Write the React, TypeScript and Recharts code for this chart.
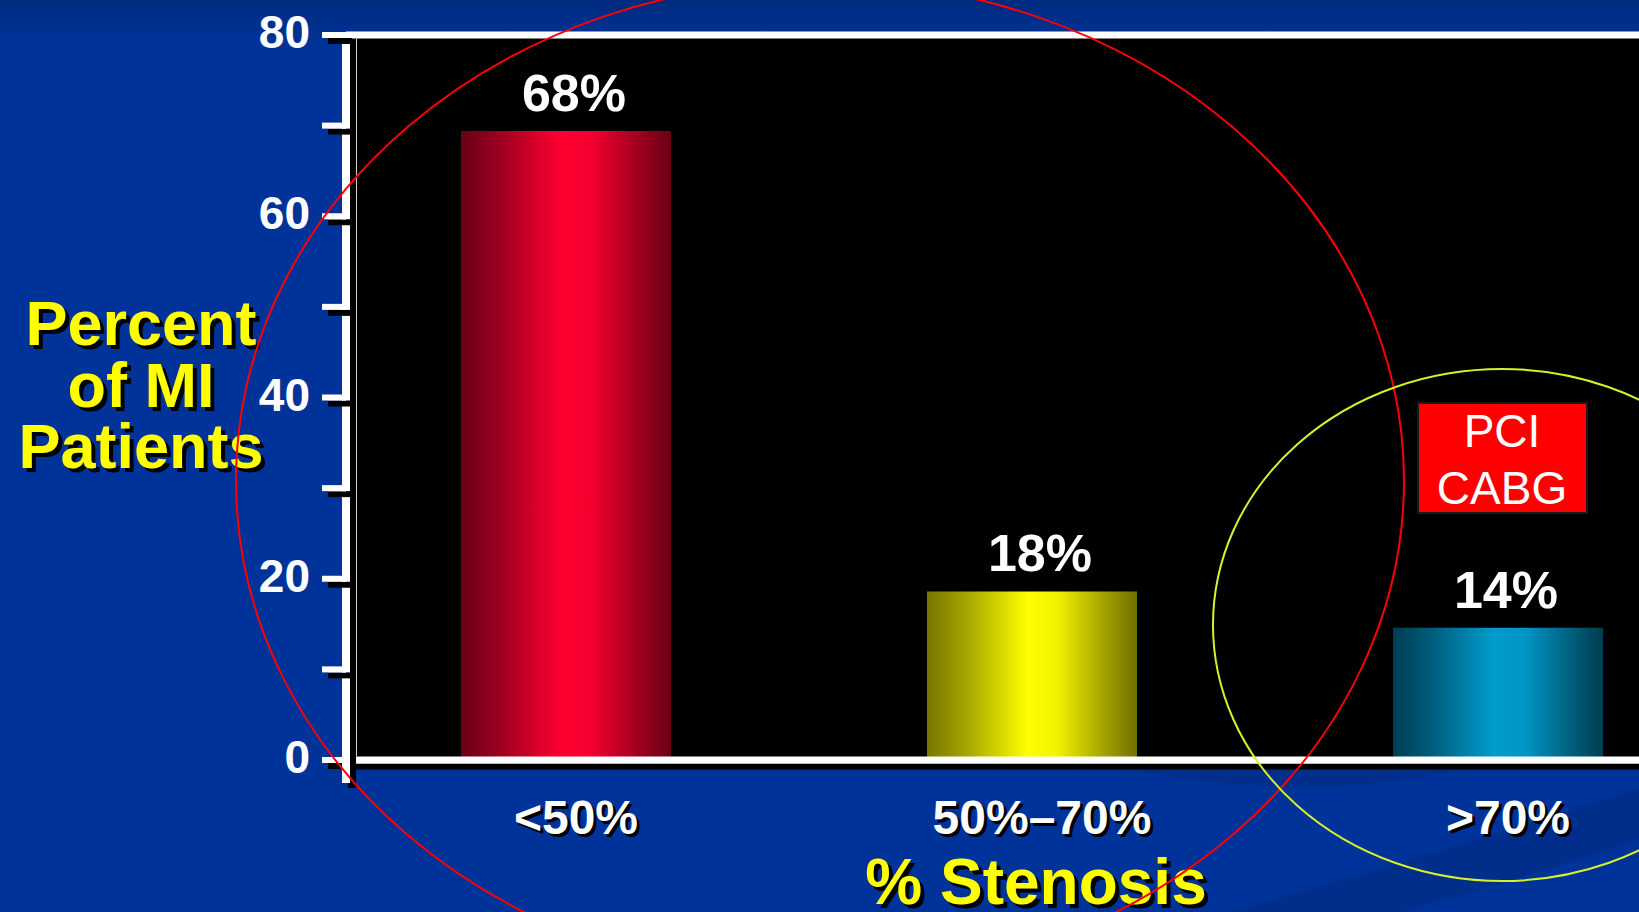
import React from 'react';
import { BarChart, Bar, XAxis, YAxis, CartesianGrid, ReferenceLine, Cell, LabelList } from 'recharts';

const categories = ['<50%', '50%–70%', '>70%'];
const percentOfMI = [69.4, 18.6, 14.6];
const barLabels = ['68%', '18%', '14%'];
const yTicks = [0, 10, 20, 30, 40, 50, 60, 70, 80];
const yTitleLines = ['Percent', 'of MI', 'Patients'];
const xTitle = '% Stenosis';
const boxLines = ['PCI', 'CABG'];

const gradients = [
  { id: 'gRed', stops: [['0%', '#6a0014'], ['18%', '#9c0020'], ['48%', '#ff0030'], ['62%', '#f4002e'], ['86%', '#9a001f'], ['100%', '#6a0014']] },
  { id: 'gYellow', stops: [['0%', '#777700'], ['20%', '#a8a800'], ['48%', '#ffff00'], ['62%', '#f2f200'], ['85%', '#a0a000'], ['100%', '#707000']] },
  { id: 'gBlue', stops: [['0%', '#003c52'], ['20%', '#00607f'], ['48%', '#009ccc'], ['63%', '#0095c4'], ['85%', '#005f7c'], ['100%', '#003c50']] },
];

const data = categories.map((c, i) => ({ category: c, value: percentOfMI[i], label: barLabels[i] }));

const font = "'Liberation Sans', Arial, sans-serif";

const ShadowText = ({ x, y, children, fill, size, weight = 700, anchor = 'middle', off = 4 }: any) => (
  <g>
    <text x={x + off} y={y + off} fill="#000" fontSize={size} fontWeight={weight} fontFamily={font} textAnchor={anchor}>{children}</text>
    <text x={x} y={y} fill={fill} fontSize={size} fontWeight={weight} fontFamily={font} textAnchor={anchor}>{children}</text>
  </g>
);

const XTick = (props: any) => {
  const { x, y, payload } = props;
  return <ShadowText x={x + 10} y={y + 34} fill="#fff" size={48} off={3}>{payload.value}</ShadowText>;
};

const YTick = (props: any) => {
  const { x, y, payload } = props;
  if (payload.value % 20 !== 0) return <g />;
  return (
    <text x={x} y={y + 13} fill="#fff" fontSize={46} fontWeight={700} fontFamily={font} textAnchor="end">
      {payload.value}
    </text>
  );
};

const YTitle = (props: any) => {
  const vb = props.viewBox || { x: 0, y: 35 };
  return (
    <g>
      {yTitleLines.map((t, i) => (
        <ShadowText key={t} x={141} y={vb.y + 310 + i * 61.5} fill="#ffff00" size={63}>{t}</ShadowText>
      ))}
    </g>
  );
};

const XTitle = (props: any) => {
  const vb = props.viewBox || { x: 346, y: 760, width: 1374 };
  return <ShadowText x={1036} y={vb.y + 144} fill="#ffff00" size={64}>{xTitle}</ShadowText>;
};

const BarLabel = (props: any) => {
  const { x, y, width, value } = props;
  return (
    <text x={x + width / 2 + 8} y={y - 20} fill="#fff" fontSize={52} fontWeight={700} fontFamily={font} textAnchor="middle">
      {value}
    </text>
  );
};

const App: React.FC = () => {
  return (
    <div style={{ position: 'absolute', left: 0, top: 0, width: 1639, height: 912, overflow: 'hidden', background: 'linear-gradient(#002a7e 0px, #003399 45px, #003399 100%)' }}>
      <style>{`
        .recharts-cartesian-axis-line, .recharts-cartesian-axis-tick-line { filter: url(#axisShadow); }
      `}</style>
      {/* background swooshes */}
      <svg width={1639} height={912} style={{ position: 'absolute', left: 0, top: 0 }}>
        <path d="M 1120 768 Q 1300 805 1470 768 Z" fill="#002e8a" />
        <path d="M 1230 912 Q 1450 850 1639 788 L 1639 840 Q 1500 885 1400 912 Z" fill="#002e8a" />
      </svg>
      <div style={{ position: 'absolute', left: 0, top: 0 }}>
        <BarChart width={1731} height={912} data={data} margin={{ top: 35, right: 0, bottom: 0, left: 0 }} barSize={210}>
          <defs>
            {gradients.map((g) => (
              <linearGradient key={g.id} id={g.id} x1="0" y1="0" x2="1" y2="0">
                {g.stops.map(([o, c]) => (
                  <stop key={o} offset={o} stopColor={c} />
                ))}
              </linearGradient>
            ))}
            <filter id="axisShadow" filterUnits="userSpaceOnUse" x="0" y="0" width="1800" height="1000">
              <feDropShadow dx="6" dy="6" stdDeviation="0" floodColor="#000" floodOpacity="1" />
            </filter>
          </defs>
          <CartesianGrid fill="#000" horizontal={false} vertical={false} />
          <XAxis
            dataKey="category"
            height={152}
            interval={0}
            padding={{ left: -13, right: 0 }}
            axisLine={{ stroke: '#fff', strokeWidth: 7 }}
            tickLine={false}
            tickSize={0}
            tickMargin={40}
            tick={XTick}
            label={XTitle}
          />
          <YAxis
            width={346}
            domain={[0, 80]}
            ticks={yTicks}
            interval={0}
            tickSize={24}
            tickMargin={12}
            axisLine={{ stroke: '#fff', strokeWidth: 8 }}
            tickLine={{ stroke: '#fff', strokeWidth: 6 }}
            tick={YTick}
            label={YTitle}
          />
          <ReferenceLine y={80} stroke="#fff" strokeWidth={7} />
          <Bar dataKey="value" isAnimationActive={false}>
            {data.map((d, i) => (
              <Cell key={d.category} fill={`url(#${gradients[i].id})`} />
            ))}
            <LabelList dataKey="label" content={BarLabel} />
          </Bar>
        </BarChart>
      </div>
      {/* annotations */}
      <svg width={1639} height={912} style={{ position: 'absolute', left: 0, top: 0, pointerEvents: 'none' }}>
        <rect x={348} y={764} width={8} height={24} fill="#000" />
        <rect x={342} y={760} width={8} height={23} fill="#fff" />
        <line x1={356.5} y1={39} x2={356.5} y2={756} stroke="#d0d0d0" strokeWidth={1} />
        <rect x={1418} y={403} width={169} height={110} fill="#ff0000" stroke="#1a1a1a" strokeWidth={2} />
        {boxLines.map((t, i) => (
          <text key={t} x={1502} y={447 + i * 57} fill="#fff" fontSize={46} fontFamily={font} textAnchor="middle">{t}</text>
        ))}
        <ellipse cx={820} cy={481} rx={584} ry={500} fill="none" stroke="#ff0000" strokeWidth={2} />
        <ellipse cx={1502} cy={625} rx={289} ry={256} fill="none" stroke="#d8f02a" strokeWidth={2} />
      </svg>
    </div>
  );
};

export default App;
